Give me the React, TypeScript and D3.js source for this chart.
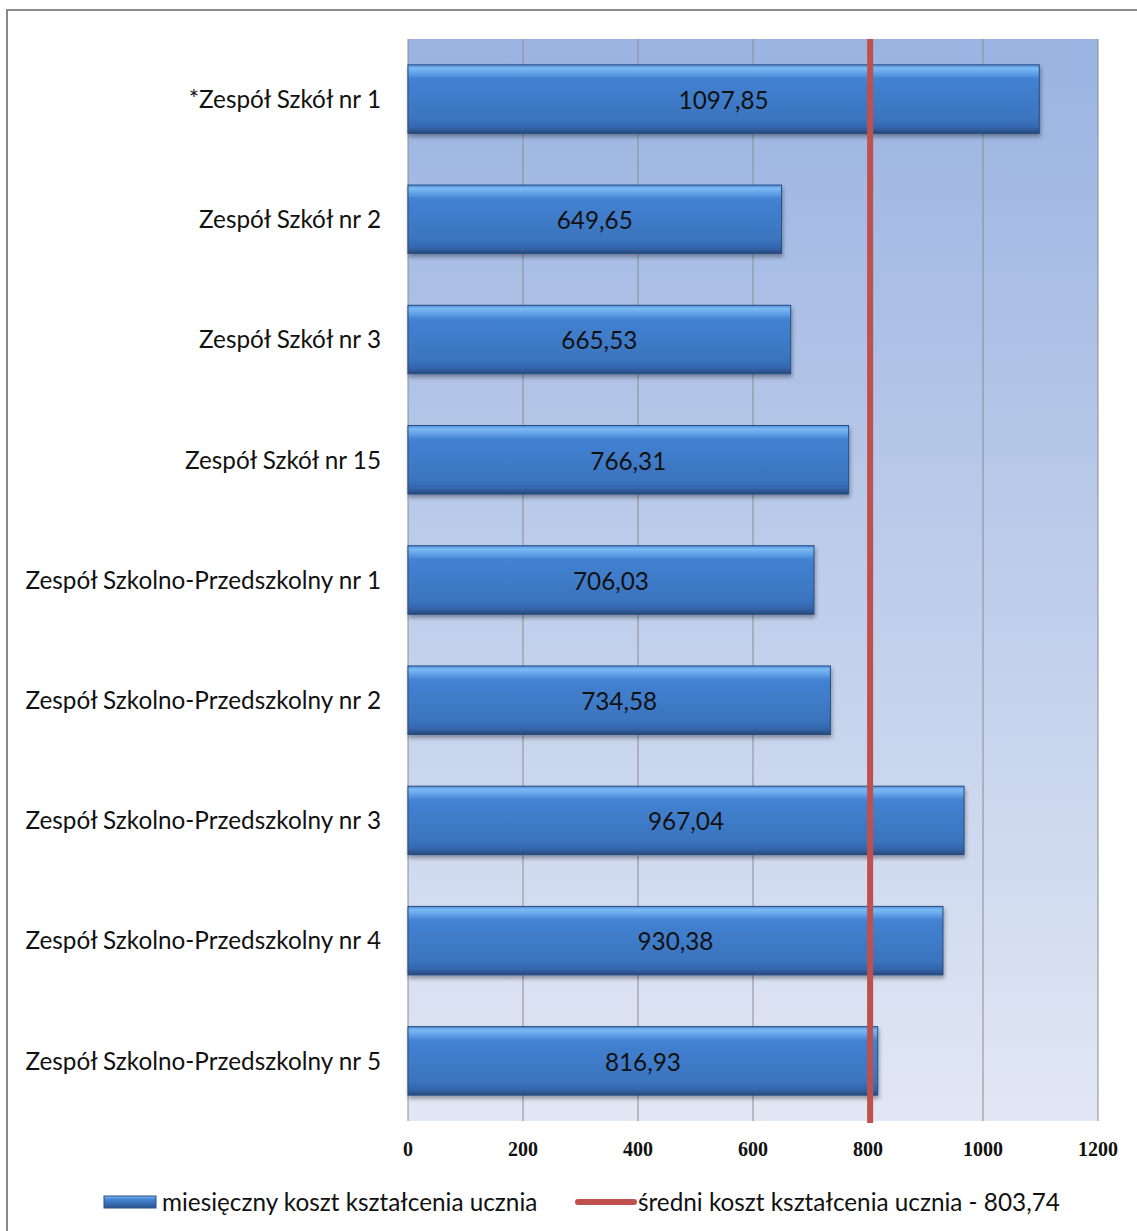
import React from "react";
import * as d3 from "d3";

const categories = [
  "*Zespół Szkół nr 1",
  "Zespół Szkół nr 2",
  "Zespół Szkół nr 3",
  "Zespół Szkół nr 15",
  "Zespół Szkolno-Przedszkolny nr 1",
  "Zespół Szkolno-Przedszkolny nr 2",
  "Zespół Szkolno-Przedszkolny nr 3",
  "Zespół Szkolno-Przedszkolny nr 4",
  "Zespół Szkolno-Przedszkolny nr 5",
];
const values = [1097.85, 649.65, 665.53, 766.31, 706.03, 734.58, 967.04, 930.38, 816.93];
const average = 803.74;
const xTicks = [0, 200, 400, 600, 800, 1000, 1200];
const seriesLabel = "miesięczny koszt kształcenia ucznia";
const averageLabel = "średni koszt kształcenia ucznia - 803,74";

const W = 1137;
const H = 1231;
const plot = { left: 408, right: 1098, top: 39, bottom: 1121 };
const labelFont = "Lato, 'Open Sans', sans-serif";
const labelSize = 24.3;

const fmt = (v: number) => v.toFixed(2).replace(".", ",");

export default function App() {
  const x = d3.scaleLinear().domain([0, 1200]).range([plot.left, plot.right]);
  const y = d3
    .scaleBand<string>()
    .domain(categories)
    .range([plot.top, plot.bottom])
    .paddingInner(0.43)
    .paddingOuter(0.215);
  const bh = y.bandwidth();

  return (
    <svg
      width={W}
      height={H}
      style={{ position: "absolute", left: 0, top: 0, display: "block" }}
      xmlns="http://www.w3.org/2000/svg"
    >
      <defs>
        <linearGradient id="bg" x1="0" y1="0" x2="0" y2="1">
          <stop offset="0%" stopColor="#9ab3e1" />
          <stop offset="100%" stopColor="#e1e7f4" />
        </linearGradient>
        <linearGradient id="bar" x1="0" y1="0" x2="0" y2="1">
          <stop offset="0%" stopColor="#4f8fdc" />
          <stop offset="5%" stopColor="#7bbaf3" />
          <stop offset="13%" stopColor="#5e9ee6" />
          <stop offset="20%" stopColor="#4382d2" />
          <stop offset="80%" stopColor="#3a74be" />
          <stop offset="92%" stopColor="#3465aa" />
          <stop offset="100%" stopColor="#26487a" />
        </linearGradient>
        <linearGradient id="legbar" x1="0" y1="0" x2="0" y2="1">
          <stop offset="0%" stopColor="#7bbaf3" />
          <stop offset="30%" stopColor="#4382d2" />
          <stop offset="100%" stopColor="#2a5590" />
        </linearGradient>
        <filter id="shadow" x="-5%" y="-20%" width="110%" height="160%">
          <feGaussianBlur in="SourceAlpha" stdDeviation="2" />
          <feOffset dx="1" dy="3" result="b" />
          <feComponentTransfer>
            <feFuncA type="linear" slope="0.35" />
          </feComponentTransfer>
          <feMerge>
            <feMergeNode />
            <feMergeNode in="SourceGraphic" />
          </feMerge>
        </filter>
      </defs>
      <rect x={0} y={0} width={W} height={H} fill="#fff" />
      {/* frame */}
      <rect x={7} y={10} width={W + 20} height={H + 20} fill="none" stroke="#8a8a8a" strokeWidth={2} />

      {/* plot background */}
      <rect
        x={plot.left}
        y={plot.top}
        width={plot.right - plot.left}
        height={plot.bottom - plot.top}
        fill="url(#bg)"
      />
      {/* gridlines */}
      {xTicks.map((t) => (
        <line
          key={t}
          x1={x(t)}
          x2={x(t)}
          y1={plot.top}
          y2={plot.bottom}
          stroke="#8c8c8c"
          strokeWidth={1}
        />
      ))}

      {/* bars */}
      {categories.map((c, i) => {
        const y0 = y(c)!;
        const x1 = x(values[i]);
        return (
          <g key={c}>
            <rect
              x={x(0)}
              y={y0}
              width={x1 - x(0)}
              height={bh}
              fill="url(#bar)"
              stroke="#2b4d80"
              strokeWidth={1}
              filter="url(#shadow)"
            />
            <text
              x={(x(0) + x1) / 2}
              y={y0 + bh / 2 + 1}
              dy="0.36em"
              textAnchor="middle"
              fontFamily={labelFont}
              fontSize={labelSize}
              fill="#111"
            >
              {fmt(values[i])}
            </text>
            <text
              x={381}
              y={y0 + bh / 2}
              dy="0.36em"
              textAnchor="end"
              fontFamily={labelFont}
              fontSize={labelSize}
              fill="#111"
            >
              {c}
            </text>
          </g>
        );
      })}

      {/* average line */}
      <line
        x1={x(average)}
        x2={x(average)}
        y1={plot.top}
        y2={plot.bottom + 2}
        stroke="#c0504d"
        strokeWidth={6}
      />

      {/* x tick labels */}
      {xTicks.map((t) => (
        <text
          key={t}
          x={x(t)}
          y={1149}
          dy="0.36em"
          textAnchor="middle"
          fontFamily="'Liberation Serif', 'Times New Roman', serif"
          fontWeight="bold"
          fontSize={20}
          fill="#111"
        >
          {t}
        </text>
      ))}

      {/* legend */}
      <rect x={104} y={1196} width={52} height={12} fill="url(#legbar)" stroke="#2b4d80" strokeWidth={1} />
      <text x={162} y={1202} dy="0.36em" fontFamily={labelFont} fontSize={labelSize} fill="#111">
        {seriesLabel}
      </text>
      <line x1={578} x2={634} y1={1202} y2={1202} stroke="#c0504d" strokeWidth={6} strokeLinecap="round" />
      <text x={638} y={1202} dy="0.36em" fontFamily={labelFont} fontSize={labelSize} fill="#111">
        {averageLabel}
      </text>
    </svg>
  );
}
